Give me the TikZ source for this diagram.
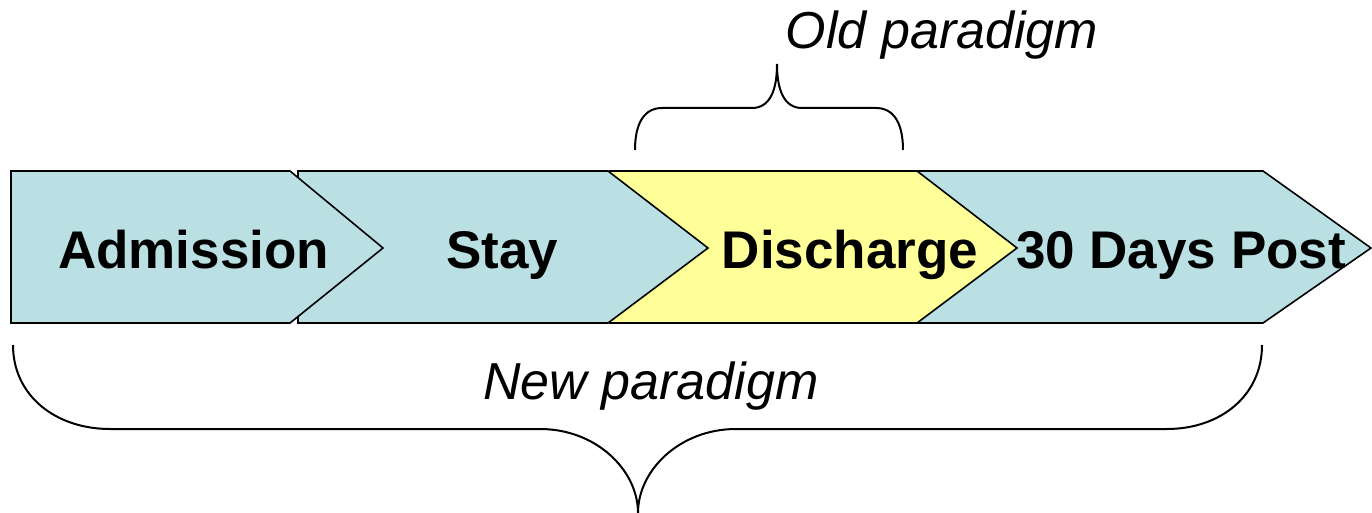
\documentclass[tikz,border=0pt]{standalone}
\usepackage{fontspec}
\setmainfont{Liberation Sans}
\definecolor{stepblue}{RGB}{187,224,227}
\definecolor{stepyellow}{RGB}{255,255,153}
\begin{document}
\begin{tikzpicture}[x=1pt,y=-1pt,
  stepshape/.style={draw=black,line width=1.6pt,line join=miter},
  steplabel/.style={anchor=base,inner sep=0pt,font=\fontsize{53}{60}\selectfont\bfseries},
  paralabel/.style={anchor=base,inner sep=0pt,font=\fontsize{52}{60}\selectfont\itshape},
  bracestyle/.style={draw=black,line width=2pt,line cap=butt}]
\useasboundingbox (0,0) rectangle (1372,513);
% step shapes, drawn right to left so each tip lies on top of the next step
\filldraw[stepshape,fill=stepblue] (887,171) -- (1263,171) -- (1371,248) -- (1263,323) -- (887,323) -- cycle;
\filldraw[stepshape,fill=stepyellow] (610,171) -- (917,171) -- (1017,248) -- (917,323) -- (610,323) -- cycle;
\filldraw[stepshape,fill=stepblue] (298,171) -- (608,171) -- (708,248) -- (608,323) -- (298,323) -- cycle;
\filldraw[stepshape,fill=stepblue] (11,171) -- (290,171) -- (383,248) -- (290,323) -- (11,323) -- cycle;
% labels
\node[steplabel] (adm) at (193.5,268) {Admission};
\node[steplabel] (stay) at (502,268) {Stay};
\node[steplabel] (dis) at (850,268) {Discharge};
\node[steplabel] (post) at (1181,268) {30 Days Post};
\node[paralabel] (old) at (942,49) {Old paradigm};
\node[paralabel] (new) at (651,399) {New paradigm};
% old paradigm brace
\coordinate (oL) at (635,150);
\coordinate (oR) at (903,150);
\coordinate (oT) at (777,64);
\draw[bracestyle] (oL) .. controls (635,122) and (645,108) .. (662,108) -- (752,108)
  .. controls (770,108) and (777,90) .. (oT)
  .. controls (777,90) and (784,108) .. (802,108) -- (876,108)
  .. controls (893,108) and (903,122) .. (oR);
% new paradigm brace
\coordinate (nL) at (13,345);
\coordinate (nR) at (1262,345);
\coordinate (nT) at (638,513);
\draw[bracestyle] (nL) .. controls (13,396) and (56,429) .. (110,429) -- (540,429)
  .. controls (596,429) and (638,470) .. (nT)
  .. controls (638,470) and (680,429) .. (736,429) -- (1167,429)
  .. controls (1220,429) and (1262,396) .. (nR);
\end{tikzpicture}
\end{document}
